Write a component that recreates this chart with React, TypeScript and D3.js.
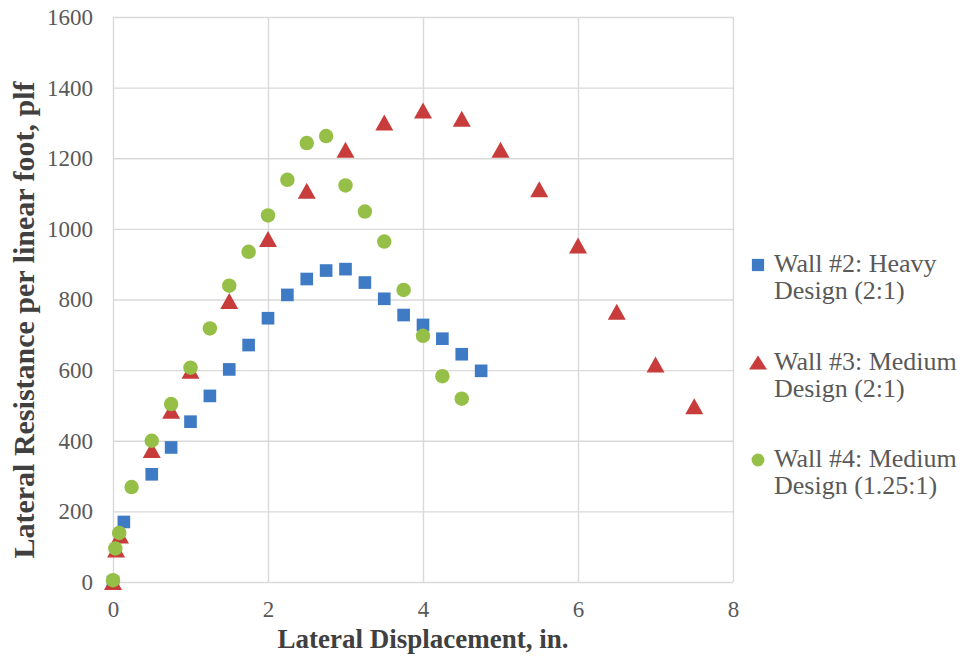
import React, { useEffect, useRef } from "react";
import * as d3 from "d3";

const W = 971;
const H = 661;
const margin = { top: 17, right: 238, bottom: 79, left: 113 };

const xTicks = [0, 2, 4, 6, 8];
const yTicks = [0, 200, 400, 600, 800, 1000, 1200, 1400, 1600];

// Wall #2: Heavy Design (2:1)
const wall2Disp = [0, 0.14, 0.5, 0.75, 1, 1.25, 1.5, 1.75, 2, 2.25, 2.5, 2.75, 3, 3.25, 3.5, 3.75, 4, 4.25, 4.5, 4.75];
const wall2Load = [0, 170, 305, 381, 454, 527, 602, 671, 747, 813, 858, 882, 886, 848, 802, 756, 728, 689, 645, 598];

// Wall #3: Medium Design (2:1)
const wall3Disp = [0, 0.04, 0.09, 0.5, 0.75, 1, 1.5, 2, 2.5, 3, 3.5, 4, 4.5, 5, 5.5, 6, 6.5, 7, 7.5];
const wall3Load = [0, 92, 132, 374, 485, 598, 796, 971, 1108, 1224, 1301, 1335, 1312, 1224, 1112, 953, 765, 616, 498];

// Wall #4: Medium Design (1.25:1)
const wall4Disp = [0, 0.03, 0.08, 0.24, 0.5, 0.75, 1, 1.25, 1.5, 1.75, 2, 2.25, 2.5, 2.75, 3, 3.25, 3.5, 3.75, 4, 4.25, 4.5];
const wall4Load = [5, 95, 139, 269, 400, 504, 607, 718, 839, 935, 1038, 1139, 1243, 1263, 1123, 1049, 964, 827, 697, 583, 519];

const legendLines = [
  ["Wall #2: Heavy", "Design (2:1)"],
  ["Wall #3: Medium", "Design (2:1)"],
  ["Wall #4: Medium", "Design (1.25:1)"],
];

const colors = ["#3f7bc4", "#c83c3c", "#96bf48"];

// triangle centred on its bounding box, like the spreadsheet marker
const triangle = (w: number, h: number) => ({
  draw(context: any) {
    context.moveTo(0, -h / 2);
    context.lineTo(w / 2, h / 2);
    context.lineTo(-w / 2, h / 2);
    context.closePath();
  },
});

const shapes = [
  d3.symbol().type(d3.symbolSquare).size(160),
  d3.symbol().type(triangle(18, 16)),
  d3.symbol().type(d3.symbolCircle).size(165),
];
const legendShapes = [
  d3.symbol().type(d3.symbolSquare).size(150),
  d3.symbol().type(triangle(18, 14)),
  d3.symbol().type(d3.symbolCircle).size(130),
];

const App = () => {
  const ref = useRef<SVGSVGElement>(null);

  useEffect(() => {
    const root = d3.select(ref.current);
    root.selectAll("*").remove();

    const width = W - margin.left - margin.right;
    const height = H - margin.top - margin.bottom;

    const svg = root.append("g")
      .attr("transform", "translate(" + margin.left + "," + margin.top + ")");

    const x = d3.scaleLinear().domain([0, 8]).range([0, width]);
    const y = d3.scaleLinear().domain([0, 1600]).range([height, 0]);

    // gridlines + tick labels
    const yAxis = svg.append("g")
      .call(d3.axisLeft(y).tickValues(yTicks).tickSize(-width).tickPadding(20).tickFormat(d3.format("d")));
    const xAxis = svg.append("g")
      .attr("transform", "translate(0," + height + ")")
      .call(d3.axisBottom(x).tickValues(xTicks).tickSize(-height).tickPadding(19).tickFormat(d3.format("d")));

    [xAxis, yAxis].forEach((g) => {
      g.select(".domain").remove();
      g.selectAll("line").attr("stroke", "#d9d9d9").attr("stroke-width", 1.4);
      g.selectAll("text")
        .attr("fill", "#595959")
        .attr("font-family", "Liberation Serif")
        .attr("font-size", 23);
    });

    // points
    const series = [
      { disp: wall2Disp, load: wall2Load },
      { disp: wall3Disp, load: wall3Load },
      { disp: wall4Disp, load: wall4Load },
    ];
    series.forEach((s, i) => {
      svg.append("g")
        .selectAll("path")
        .data(s.disp.map((d, j) => [d, s.load[j]]))
        .enter().append("path")
        .attr("transform", (d) => "translate(" + x(d[0]) + "," + y(d[1]) + ")")
        .attr("d", shapes[i]() as string)
        .attr("fill", colors[i]);
    });

    // axis titles
    root.append("text")
      .attr("x", margin.left + width / 2)
      .attr("y", 648)
      .attr("text-anchor", "middle")
      .attr("fill", "#404040")
      .attr("font-family", "Liberation Serif")
      .attr("font-weight", "bold")
      .attr("font-size", 27)
      .text("Lateral Displacement, in.");

    root.append("text")
      .attr("transform", "translate(34,320) rotate(-90)")
      .attr("text-anchor", "middle")
      .attr("fill", "#404040")
      .attr("font-family", "Liberation Serif")
      .attr("font-weight", "bold")
      .attr("font-size", 30)
      .text("Lateral Resistance per linear foot, plf");

    // legend
    const legend = root.append("g").attr("transform", "translate(758,265)");
    legendLines.forEach((lines, i) => {
      const item = legend.append("g").attr("transform", "translate(0," + i * 97.5 + ")");
      item.append("path")
        .attr("d", legendShapes[i]() as string)
        .attr("fill", colors[i]);
      lines.forEach((line, k) => {
        item.append("text")
          .attr("x", 16)
          .attr("y", 7 + k * 27)
          .attr("fill", "#595959")
          .attr("font-family", "Liberation Serif")
          .attr("font-size", 26)
          .text(line);
      });
    });
  }, []);

  return (
    <svg
      ref={ref}
      width={W}
      height={H}
      style={{ position: "absolute", left: 0, top: 0, background: "#fff" }}
    ></svg>
  );
};

export default App;
